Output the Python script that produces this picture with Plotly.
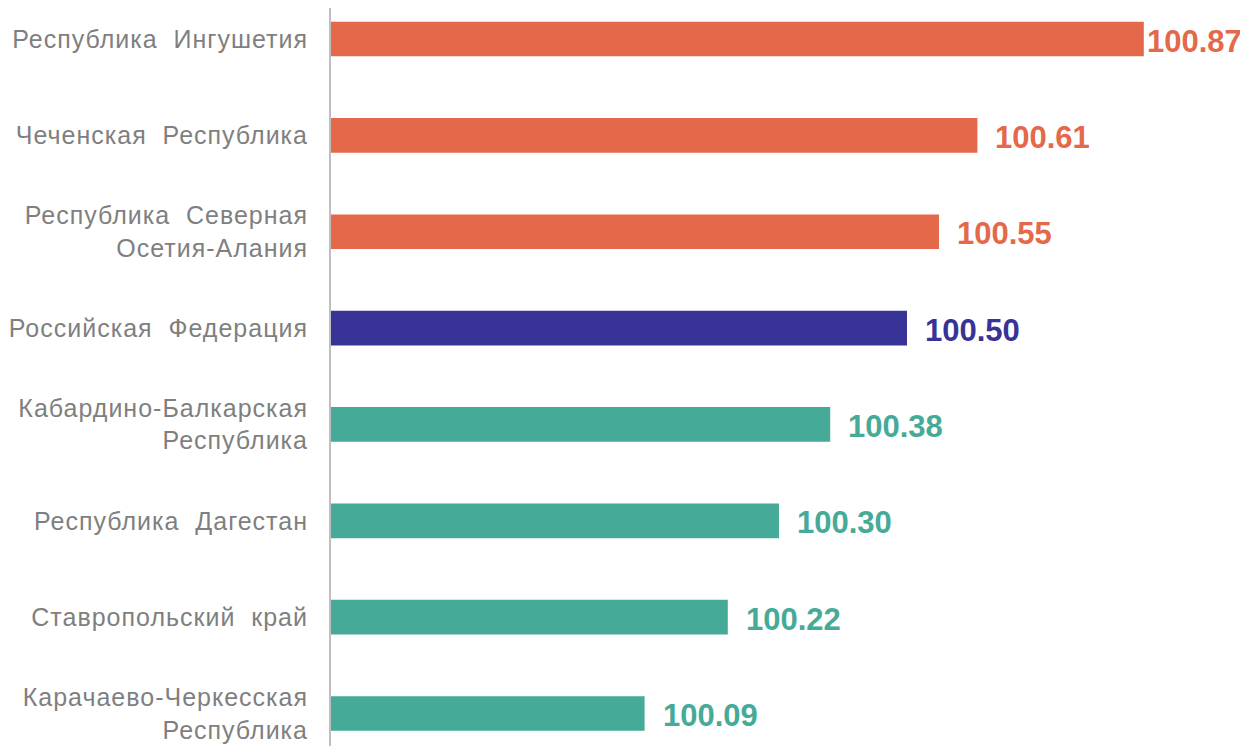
import plotly.graph_objects as go

categories = [
    "Республика\u00a0 Ингушетия",
    "Чеченская\u00a0 Республика",
    "Республика\u00a0 Северная<br>Осетия-Алания",
    "Российская\u00a0 Федерация",
    "Кабардино-Балкарская<br>Республика",
    "Республика\u00a0 Дагестан",
    "Ставропольский\u00a0 край",
    "Карачаево-Черкесская<br>Республика",
]
values = [100.87, 100.61, 100.55, 100.50, 100.38, 100.30, 100.22, 100.09]
value_labels = ["100.87", "100.61", "100.55", "100.50", "100.38", "100.30", "100.22", "100.09"]
groups = ["high", "high", "high", "rf", "low", "low", "low", "low"]

colors = {"high": "#E4694A", "rf": "#383396", "low": "#46AA98"}
bar_colors = [colors[g] for g in groups]
x_min, x_max = 99.6, 101.0


def spaced(label):
    return "<br>".join(
        '<span style="letter-spacing:1px">' + part + "</span>" for part in label.split("<br>")
    )


tick_text = [spaced(c) for c in categories]

fig = go.Figure()
fig.add_trace(go.Bar(
    y=categories, x=values, orientation="h",
    marker=dict(color=bar_colors, line=dict(width=0)),
    width=0.36, hoverinfo="skip",
))

for i, (c, v, t, col) in enumerate(zip(categories, values, value_labels, bar_colors)):
    fig.add_annotation(
        x=v, y=c, text=t, showarrow=False, xanchor="left", yanchor="middle",
        xshift=1 if i == 0 else 16, yshift=-2,
        font=dict(family="Liberation Sans, Arial, sans-serif", size=31, color=col, weight="bold"),
    )

fig.update_layout(
    width=1240, height=738,
    margin=dict(l=323, r=21, t=0, b=0),
    paper_bgcolor="white", plot_bgcolor="white",
    showlegend=False,
    font=dict(family="Liberation Sans, Arial, sans-serif"),
)
fig.update_xaxes(range=[x_min, x_max], visible=False, showgrid=False, zeroline=False)
fig.update_yaxes(
    categoryorder="array", categoryarray=categories,
    tickmode="array", tickvals=categories, ticktext=tick_text,
    range=[7.337, -0.322],
    showline=True, linecolor="#BFBFBF", linewidth=2,
    ticks="", ticklabelstandoff=16, showgrid=False, zeroline=False,
    tickfont=dict(family="Liberation Sans, Arial, sans-serif", size=25, color="#7F7F7F"),
)

fig.write_html("out.html")
